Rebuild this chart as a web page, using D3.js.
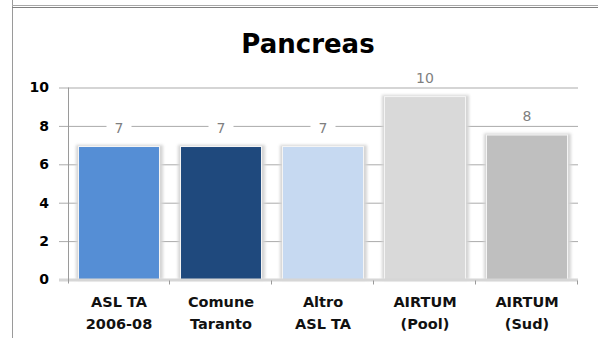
<!DOCTYPE html>
<html>
<head>
<meta charset="utf-8">
<script src="https://cdn.jsdelivr.net/npm/d3@7"></script>
<style>
  body { margin: 0; background: #fff; }
  svg { display: block; font-family: "DejaVu Sans", sans-serif; }
</style>
</head>
<body>
<svg id="chart" width="598" height="338"></svg>
<script>
var categories = [["ASL TA", "2006-08"], ["Comune", "Taranto"], ["Altro", "ASL TA"], ["AIRTUM", "(Pool)"], ["AIRTUM", "(Sud)"]];
var values = [6.9, 6.9, 6.9, 9.5, 7.5];
var valueLabels = ["7", "7", "7", "10", "8"];
var yTicks = [0, 2, 4, 6, 8, 10];
var colors = ["#558ed5", "#1f497d", "#c6d9f1", "#d9d9d9", "#bfbfbf"];

var svg = d3.select("#chart");
var keys = categories.map(function(c) { return c.join(" "); });

// frame
svg.append("line").attr("x1", 12.5).attr("x2", 12.5).attr("y1", 0).attr("y2", 338)
  .attr("stroke", "#9a9a9a").attr("stroke-width", 1);
svg.append("line").attr("x1", 12).attr("x2", 598).attr("y1", 5.5).attr("y2", 5.5)
  .attr("stroke", "#a8a8a8").attr("stroke-width", 1);
svg.append("line").attr("x1", 12).attr("x2", 598).attr("y1", 7.5).attr("y2", 7.5)
  .attr("stroke", "#808080").attr("stroke-width", 1);

svg.append("text").attr("x", 308).attr("y", 53)
  .attr("text-anchor", "middle").attr("font-size", 26).attr("font-weight", "bold")
  .attr("fill", "#000").text("Pancreas");

var x = d3.scaleBand().domain(keys).range([68, 578])
  .paddingInner(0.216).paddingOuter(0.108);
var y = d3.scaleLinear().domain([0, 10]).range([279.5, 87.5]);

var defs = svg.append("defs");
defs.append("filter").attr("id", "blur").attr("x", "-20%").attr("y", "-20%")
  .attr("width", "140%").attr("height", "140%")
  .append("feGaussianBlur").attr("stdDeviation", 1.6);

// y axis with gridlines
var yAxis = svg.append("g").attr("transform", "translate(68,0)")
  .call(d3.axisLeft(y).tickValues(yTicks).tickSizeInner(-510).tickSizeOuter(0).tickPadding(19));
yAxis.select(".domain").remove();
yAxis.selectAll(".tick line").attr("x1", -9).attr("x2", 510).attr("stroke", "#ababab");
yAxis.selectAll(".tick text").attr("font-size", 14).attr("font-weight", "bold")
  .attr("fill", "#000").attr("font-family", "DejaVu Sans, sans-serif");

// bars with soft shadow
var bar = svg.selectAll(".bar").data(values).enter().append("g").attr("class", "bar");
bar.append("rect")
  .attr("x", function(d, i) { return x(keys[i]) - 3; })
  .attr("y", function(d) { return y(d) - 2; })
  .attr("width", x.bandwidth() + 7)
  .attr("height", function(d) { return y(0) - y(d) + 2; })
  .attr("fill", "#d4d4d4").attr("filter", "url(#blur)");
bar.append("rect")
  .attr("x", function(d, i) { return x(keys[i]) - 1; })
  .attr("y", function(d) { return y(d) - 1; })
  .attr("width", x.bandwidth() + 2)
  .attr("height", function(d) { return y(0) - y(d) + 1; })
  .attr("fill", "#f4f4f4");
bar.append("rect")
  .attr("x", function(d, i) { return x(keys[i]); })
  .attr("y", function(d) { return y(d); })
  .attr("width", x.bandwidth())
  .attr("height", function(d) { return y(0) - y(d); })
  .attr("fill", function(d, i) { return colors[i]; });

// x axis baseline and ticks
svg.append("line").attr("x1", 59).attr("x2", 578).attr("y1", y(0) + 0.5).attr("y2", y(0) + 0.5)
  .attr("stroke", "#d6d6d6").attr("stroke-width", 3);
svg.append("line").attr("x1", 68.5).attr("x2", 68.5).attr("y1", y(10)).attr("y2", y(0) + 4)
  .attr("stroke", "#9a9a9a");
var bounds = keys.map(function(k) { return x(k) - x.step() * x.paddingInner() / 2; });
bounds.push(578);
svg.selectAll(".xtick").data(bounds.slice(1)).enter().append("line")
  .attr("x1", function(d) { return d - 0.5; }).attr("x2", function(d) { return d - 0.5; })
  .attr("y1", y(0) + 1).attr("y2", y(0) + 5).attr("stroke", "#9a9a9a");

// category labels
var xl = svg.selectAll(".xlab").data(categories).enter().append("text")
  .attr("text-anchor", "middle").attr("font-size", 14.5).attr("font-weight", "bold")
  .attr("fill", "#111");
xl.append("tspan").attr("x", function(d, i) { return x(keys[i]) + x.bandwidth() / 2; })
  .attr("y", 307).text(function(d) { return d[0]; });
xl.append("tspan").attr("x", function(d, i) { return x(keys[i]) + x.bandwidth() / 2; })
  .attr("y", 329).text(function(d) { return d[1]; });

// value labels
var vl = svg.selectAll(".vlab").data(values).enter().append("g")
  .attr("transform", function(d, i) {
    return "translate(" + (x(keys[i]) + x.bandwidth() / 2) + "," + (y(d) - 19.5) + ")";
  });
vl.append("rect")
  .attr("x", function(d, i) { return -(valueLabels[i].length * 3.5 + 9); })
  .attr("width", function(d, i) { return 2 * (valueLabels[i].length * 3.5 + 9); })
  .attr("y", -8).attr("height", 16).attr("fill", "#fff");
vl.append("text").attr("text-anchor", "middle").attr("dy", "0.36em")
  .attr("font-size", 14).attr("fill", "#7f7f7f")
  .text(function(d, i) { return valueLabels[i]; });
</script>
</body>
</html>
